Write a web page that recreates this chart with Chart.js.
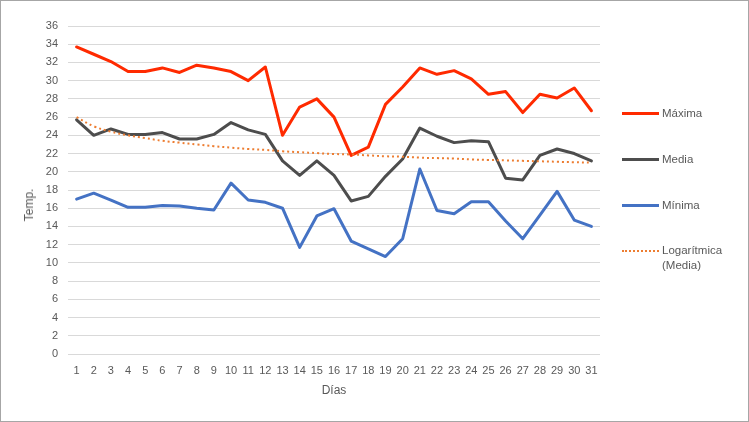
<!DOCTYPE html>
<html>
<head>
<meta charset="utf-8">
<script src="https://cdn.jsdelivr.net/npm/chart.js@4/dist/chart.umd.min.js"></script>
<style>
  html, body { margin: 0; padding: 0; background: #fff; }
  #wrap { position: relative; width: 749px; height: 422px; }
  #wrap canvas { position: absolute; left: 0; top: 0; }
  #frame { position: absolute; left: 0; top: 0; width: 747px; height: 420px;
           border: 1px solid #a6a6a6; pointer-events: none; }
  #ytitle { position: absolute; left: 29px; top: 205px; transform: translate(-50%, -50%) rotate(-90deg);
            font: 12px 'Liberation Sans', Arial, sans-serif; color: #595959; white-space: nowrap; }
  #legend { position: absolute; left: 622px; top: 0; font: 11.5px 'Liberation Sans', Arial, sans-serif;
            color: #595959; line-height: 15px; }
  .item { position: absolute; left: 0; display: flex; align-items: flex-start; }
  .swatch { width: 37px; margin-right: 3px; margin-top: 6px; }
  .text { width: 80px; }
</style>
</head>
<body>
<div id="wrap">
  <canvas id="chart" width="749" height="422"></canvas>
  <div id="ytitle">Temp.</div>
  <div id="legend"></div>
  <div id="frame"></div>
</div>
<script>
// data
const dias = ['1','2','3','4','5','6','7','8','9','10','11','12','13','14','15','16',
  '17','18','19','20','21','22','23','24','25','26','27','28','29','30','31'];

const maxima = [33.7, 32.9, 32.1, 31.0, 31.0, 31.4, 30.9, 31.7, 31.4, 31.0, 30.0, 31.5, 24.0, 27.1,
  28.0, 26.0, 21.8, 22.7, 27.4, 29.3, 31.4, 30.7, 31.1, 30.2, 28.5, 28.8, 26.5, 28.5, 28.1, 29.2, 26.7];

const media = [25.7, 24.0, 24.7, 24.1, 24.1, 24.3, 23.6, 23.6, 24.1, 25.4, 24.6, 24.1, 21.2, 19.6,
  21.2, 19.6, 16.8, 17.3, 19.5, 21.4, 24.8, 23.9, 23.2, 23.4, 23.3, 19.3, 19.1, 21.8, 22.5, 22.0, 21.2];

const minima = [17.0, 17.65, 16.9, 16.1, 16.1, 16.3, 16.25, 16.0, 15.8, 18.75, 16.9, 16.65, 16.0, 11.7,
  15.15, 15.95, 12.4, 11.55, 10.7, 12.65, 20.3, 15.75, 15.4, 16.7, 16.7, 14.6, 12.65, 15.25, 17.85, 14.7, 14.0];

// trend line (Media)
const logMedia = [26.0, 25.0, 24.4, 24.0, 23.7, 23.4, 23.2, 23.0, 22.8, 22.65, 22.5, 22.4, 22.25, 22.15,
  22.05, 21.95, 21.9, 21.8, 21.7, 21.65, 21.55, 21.5, 21.45, 21.35, 21.3, 21.25, 21.2, 21.15, 21.1, 21.05, 21.0];

const TXT = '#595959';
const FONT = "'Liberation Sans', Arial, sans-serif";

function lineSet(label, data, color) {
  return { label, data, borderColor: color, backgroundColor: color, borderWidth: 3,
    pointRadius: 0, tension: 0, borderJoinStyle: 'round', borderCapStyle: 'round', order: 1 };
}

const datasets = [
  lineSet('Máxima', maxima, '#ff2a00'),
  lineSet('Media', media, '#4d4d4d'),
  lineSet('Mínima', minima, '#4472c4'),
  { label: 'Logarítmica (Media)', data: logMedia, borderColor: '#ed7d31', borderWidth: 2,
    borderDash: [2, 3], borderCapStyle: 'butt', pointRadius: 0, tension: 0.4, order: 0 }
];

const chart = new Chart(document.getElementById('chart'), {
  type: 'line',
  data: { labels: dias, datasets },
  options: {
    responsive: false,
    animation: false,
    layout: { padding: { left: 0, right: 149, top: 26, bottom: 24 } },
    plugins: { legend: { display: false }, tooltip: { enabled: false } },
    scales: {
      x: {
        offset: true,
        grid: { display: false, drawTicks: false },
        border: { display: false },
        ticks: { color: TXT, font: { family: FONT, size: 11 }, padding: 10, maxRotation: 0, autoSkip: false },
        title: { display: true, text: 'Días', color: TXT, font: { family: FONT, size: 12 }, padding: { top: 0, bottom: 0 } },
        afterFit: s => { s.height = 44; }
      },
      y: {
        min: 0, max: 36,
        grid: { color: '#d9d9d9', lineWidth: 1, drawTicks: false },
        border: { display: false },
        ticks: { stepSize: 2, color: TXT, font: { family: FONT, size: 11 }, padding: 10 },
        afterFit: s => { s.width = 68; }
      }
    }
  }
});

// legend, built from the datasets
const legendTops = [106, 151.5, 197.5, 242.5];
const lg = document.getElementById('legend');
chart.data.datasets.forEach((d, i) => {
  const it = document.createElement('div');
  it.className = 'item';
  it.style.top = legendTops[i] + 'px';
  const sw = document.createElement('div');
  sw.className = 'swatch';
  sw.style.borderTop = d.borderDash ? '2px dotted ' + d.borderColor : '3px solid ' + d.borderColor;
  if (d.borderDash) sw.style.marginTop = '7px';
  const tx = document.createElement('div');
  tx.className = 'text';
  tx.textContent = d.label;
  it.appendChild(sw);
  it.appendChild(tx);
  lg.appendChild(it);
});
</script>
</body>
</html>
